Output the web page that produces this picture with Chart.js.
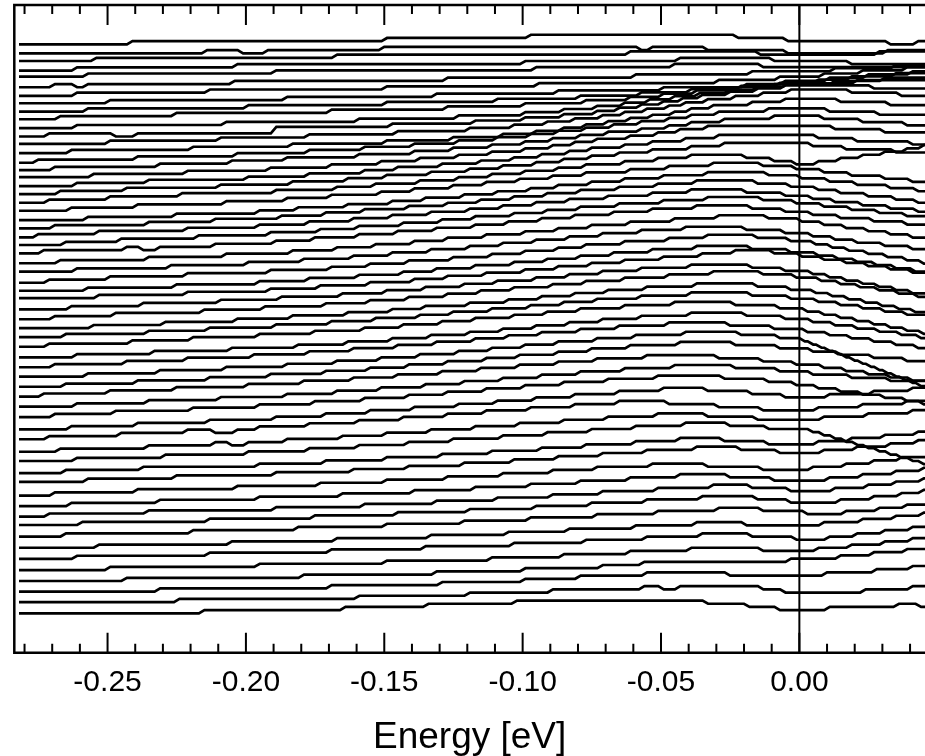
<!DOCTYPE html>
<html>
<head>
<meta charset="utf-8">
<script src="https://cdn.jsdelivr.net/npm/chart.js@4.4.0/dist/chart.umd.min.js"></script>
<style>
  html, body { margin: 0; padding: 0; background: #fff; overflow: hidden; }
  #wrap { width: 925px; height: 756px; }
</style>
</head>
<body>
<div id="wrap"><canvas id="edc" width="925" height="756"></canvas></div>
<script>
// energy window (eV)
const energyStart = -0.282;
const energyEnd = 0.046;
const axisMin = -0.2837;
const axisMax = 0.0454;
const fermiLevel = 0;
const intensityMax = 202.4;

const majorTicks = [-0.25, -0.20, -0.15, -0.10, -0.05, 0.00];
const tickMarks = [-0.28, -0.27, -0.26, -0.25, -0.24, -0.23, -0.22, -0.21, -0.20, -0.19, -0.18,
  -0.17, -0.16, -0.15, -0.14, -0.13, -0.12, -0.11, -0.10, -0.09, -0.08, -0.07, -0.06, -0.05,
  -0.04, -0.03, -0.02, -0.01, 0.00, 0.01, 0.02, 0.03, 0.04];

// stack offset of each EDC (counts), top curve first
const offsets = [190.1, 187.3, 184.9, 181.9, 180.0, 176.7, 174.0, 171.7, 169.1, 166.7,
  163.9, 161.3, 159.0, 156.1, 153.1, 150.8, 148.6, 145.8, 143.3, 140.6,
  138.1, 135.2, 132.6, 129.8, 127.4, 124.8, 121.7, 119.1, 115.6, 113.1,
  110.8, 107.3, 104.2, 101.4, 98.6, 95.6, 92.3, 89.2, 86.3, 83.1,
  80.0, 76.9, 73.6, 69.8, 66.7, 62.8, 59.9, 56.1, 53.4, 49.1,
  45.8, 42.5, 39.9, 36.3, 32.8, 29.3, 25.8, 22.4, 19.1, 15.8, 12.3];

// intensity steps per EDC: energy (meV), new level (counts above offset)
const steps = [
  [-242,1, -150,2, -98,3, -23,2, -5,1, 32,0, 42,1],
  [-215,1, -202,0, -193,1, -151,2, -58,1, -54,2, -34,1, -5,0, 31,1],
  [-255,1, -168,2, -62,3, -15,2, 28,3],
  [-262,1, -204,2, -100,3, -44,4, -10,3, 18,2],
  [-258,1, -190,2, -96,3, -46,4, -14,3],
  [-270,1, -262,0, -258,1, -205,2, -128,3, -60,4, -18,5, 12,6, 34,7],
  [-262,1, -214,2, -150,3, -95,4, -30,5, -8,6, 8,7, 22,8, 38,9],
  [-250,1, -186,2, -132,3, -88,4, -50,5, -20,6, -6,7, 10,8, 24,9, 40,10],
  [-258,1, -200,2, -150,3, -110,4, -80,5, -58,6, -40,7, -22,8, -8,9, 6,10, 18,11, 34,12],
  [-268,1, -226,2, -170,3, -128,4, -100,5, -78,6, -62,7, -50,8, -38,9, -24,10, -10,11, 12,12, 30,13],
  [-262,1, -208,2, -160,3, -124,4, -100,5, -86,6, -74,7, -64,8, -55,9, -46,10, -37,11, -26,12, -16,13, -5,14, 20,15],
  [-272,1, -248,0, -240,1, -190,3, -148,4, -118,5, -100,6, -86,7, -74,8, -66,9, -58,10, -50,11, -43,12, -36,13, -26,14, -16,15, -6,16, 26,15],
  [-250,1, -210,2, -178,3, -146,4, -120,5, -104,6, -92,7, -82,8, -72,9, -64,10, -56,11, -48,12, -42,13, -34,14, -24,15, -14,16, -4,17, 18,16, 36,15],
  [-264,1, -220,2, -184,3, -150,4, -126,5, -108,6, -96,7, -86,8, -78,9, -70,10, -62,11, -54,12, -46,13, -40,14, -32,15, -18,16, -6,17, 14,16, 32,15],
  [-276,1, -240,2, -204,3, -178,4, -158,5, -140,6, -124,7, -110,8, -98,9, -88,10, -78,11, -68,12, -58,13, -48,14, -40,15, -30,16, -12,17, 10,16, 28,15],
  [-270,1, -232,2, -206,3, -186,4, -160,5, -140,6, -126,7, -112,8, -100,9, -90,10, -80,11, -70,12, -58,13, -48,14, -40,15, -28,16, -10,17, 8,16, 22,15, 38,14],
  [-256,1, -222,2, -192,3, -170,4, -152,5, -138,6, -124,7, -112,8, -100,9, -90,10, -82,11, -74,12, -62,13, -52,14, -44,15, -34,16, 12,15, 30,14],
  [-262,1, -236,2, -200,3, -178,4, -158,5, -146,6, -130,7, -116,8, -104,9, -94,10, -84,11, -76,12, -64,13, -54,14, -42,15, -30,16, 6,15, 20,14, 40,13],
  [-268,1, -244,2, -210,3, -184,4, -164,5, -150,6, -134,7, -120,8, -108,9, -96,10, -86,11, -76,12, -66,13, -54,14, -40,15, -28,16, 4,15, 16,14, 34,13],
  [-272,1, -250,2, -224,3, -190,4, -168,5, -154,6, -138,7, -124,8, -112,9, -100,10, -88,11, -78,12, -64,13, -52,14, -40,15, -20,14, -10,13, -2,12, 6,13, 14,14, 22,15, 30,16, 38,17, 44,18],
  [-264,1, -240,2, -208,3, -186,4, -170,5, -152,6, -140,7, -126,8, -114,9, -102,10, -90,11, -78,12, -62,13, -48,14, -32,15, -14,14, -2,13, 8,12, 18,11, 30,10, 40,9],
  [-258,1, -226,2, -196,3, -182,4, -164,5, -148,6, -136,7, -122,8, -110,9, -98,10, -88,11, -76,12, -64,13, -50,14, -34,15, -12,14, 0,13, 10,12, 20,11, 32,10, 42,9],
  [-270,1, -236,2, -212,3, -188,4, -172,5, -158,6, -142,7, -128,8, -116,9, -104,10, -92,11, -80,12, -66,13, -52,14, -38,15, -16,14, -4,13, 6,12, 14,11, 24,10, 34,9, 42,8],
  [-276,1, -254,2, -222,3, -196,4, -178,5, -162,6, -148,7, -134,8, -120,9, -108,10, -96,11, -84,12, -70,13, -54,14, -40,15, -20,14, -6,13, 4,12, 12,11, 22,10, 32,9, 42,8],
  [-266,1, -246,2, -218,3, -192,4, -174,5, -160,6, -144,7, -130,8, -118,9, -104,10, -92,11, -80,12, -66,13, -50,14, -34,15, -14,14, -2,13, 8,12, 18,11, 28,10, 38,9],
  [-274,1, -244,2, -238,1, -232,2, -212,3, -190,4, -176,5, -160,6, -146,7, -132,8, -118,9, -106,10, -94,11, -82,12, -68,13, -54,14, -38,15, -18,14, -6,13, 4,12, 14,11, 26,10, 38,9],
  [-268,1, -236,2, -208,3, -184,4, -168,5, -154,6, -140,7, -128,8, -114,9, -100,10, -88,11, -76,12, -62,13, -46,14, -30,15, -12,14, 0,13, 8,12, 16,11, 24,10, 32,9, 40,8],
  [-262,1, -228,2, -200,3, -180,4, -162,5, -148,6, -134,7, -120,8, -108,9, -96,10, -84,11, -72,12, -58,13, -42,14, -20,13, -6,12, 4,11, 12,10, 20,9, 30,8, 40,7],
  [-272,1, -250,2, -222,3, -192,4, -170,5, -156,6, -142,7, -126,8, -112,9, -100,10, -88,11, -78,12, -64,13, -48,14, -34,15, -16,14, -4,13, 5,12, 11,11, 17,10, 24,9, 31,8, 38,7, 44,6],
  [-258,1, -226,2, -196,3, -178,4, -160,5, -144,6, -132,7, -118,8, -104,9, -92,10, -80,11, -68,12, -54,13, -38,14, -18,13, -4,12, 6,11, 13,10, 20,9, 27,8, 34,7, 41,6],
  [-254,1, -222,2, -192,3, -174,4, -156,5, -140,6, -128,7, -114,8, -100,9, -88,10, -76,11, -64,12, -50,13, -36,14, -24,15, -10,14, 0,13, 8,12, 16,11, 24,10, 32,9, 40,8],
  [-264,1, -238,2, -210,3, -188,4, -166,5, -150,6, -136,7, -122,8, -110,9, -96,10, -84,11, -72,12, -58,13, -40,14, -18,13, -6,12, 4,11, 10,10, 16,9, 22,8, 28,7, 34,6, 40,5],
  [-270,1, -248,2, -216,3, -194,4, -172,5, -156,6, -142,7, -128,8, -116,9, -104,10, -90,11, -78,12, -64,13, -48,14, -32,15, -14,14, -2,13, 7,12, 14,11, 21,10, 28,9, 35,8, 42,7],
  [-256,1, -230,2, -204,3, -184,4, -164,5, -148,6, -136,7, -120,8, -106,9, -94,10, -82,11, -70,12, -56,13, -38,14, -16,13, -4,12, 5,11, 11,10, 17,9, 23,8, 29,7, 35,6, 41,5],
  [-266,1, -236,2, -214,3, -190,4, -170,5, -154,6, -138,7, -126,8, -112,9, -98,10, -86,11, -74,12, -58,13, -40,14, -18,13, -4,12, 6,11, 14,10, 22,9, 30,8, 38,7],
  [-272,1, -242,2, -220,3, -196,4, -176,5, -158,6, -144,7, -130,8, -118,9, -104,10, -92,11, -80,12, -64,13, -46,14, -24,13, -8,12, 2,11, 8,10, 14,9, 20,8, 26,7, 32,6, 38,5, 44,4],
  [-262,1, -234,2, -206,3, -182,4, -164,5, -148,6, -134,7, -120,8, -108,9, -96,10, -84,11, -72,12, -58,13, -40,14, -20,13, -6,12, 4,11, 12,10, 20,9, 28,8, 36,7, 43,6],
  [-270,1, -244,2, -222,3, -198,4, -178,5, -162,6, -146,7, -132,8, -118,9, -106,10, -94,11, -80,12, -66,13, -48,14, -26,13, -10,12, 2,11, 10,10, 18,9, 26,8, 34,7, 42,6],
  [-258,1, -232,2, -208,3, -186,4, -168,5, -152,6, -138,7, -124,8, -112,9, -100,10, -88,11, -74,12, -60,13, -42,14, -22,13, -8,12, 1,11, 4,10, 7,9, 10,8, 13,7, 16,6, 19,5, 22,4, 25,3, 28,2, 31,1, 34,0, 37,-1, 40,-2, 43,-3],
  [-266,1, -240,2, -214,3, -192,4, -172,5, -156,6, -142,7, -128,8, -114,9, -102,10, -88,11, -76,12, -62,13, -44,14, -24,13, -8,12, 4,11, 14,10, 26,9, 38,8],
  [-274,1, -250,2, -226,3, -200,4, -180,5, -162,6, -146,7, -130,8, -116,9, -102,10, -88,11, -74,12, -56,13, -30,12, -14,11, -2,10, 8,9, 16,8, 24,7, 32,6, 40,5],
  [-262,1, -236,2, -210,3, -186,4, -168,5, -152,6, -136,7, -122,8, -108,9, -94,10, -80,11, -64,12, -46,13, -24,12, -8,11, 4,10, 18,9, 32,8],
  [-270,1, -248,2, -220,3, -196,4, -176,5, -158,6, -142,7, -128,8, -114,9, -100,10, -86,11, -70,12, -52,13, -28,12, -12,11, -2,10, 6,9, 14,8, 22,7, 30,6, 38,5, 44,4],
  [-264,1, -240,2, -214,3, -190,4, -172,5, -156,6, -140,7, -124,8, -110,9, -96,10, -82,11, -66,12, -50,13, -34,12, -18,11, -6,10, 10,11, 26,12, 40,13],
  [-272,1, -246,2, -222,3, -212,2, -204,3, -196,4, -178,5, -160,6, -144,7, -128,8, -114,9, -98,10, -82,11, -66,12, -48,11, -30,10, -14,9, 6,10, 22,11, 38,12],
  [-268,1, -236,2, -212,3, -206,2, -200,3, -186,4, -166,5, -150,6, -134,7, -118,8, -102,9, -86,10, -70,11, -52,12, -34,11, -16,10, 8,11, 24,12, 40,13],
  [-262,1, -230,2, -200,3, -178,4, -160,5, -142,6, -126,7, -108,8, -92,9, -76,10, -60,11, -42,12, -26,11, -12,10, 4,9, 8,8, 12,7, 16,6, 20,5, 24,4, 28,3, 32,2, 36,1, 40,0, 44,-1],
  [-266,1, -238,2, -196,3, -172,4, -150,5, -130,6, -112,7, -94,8, -78,9, -60,10, -44,11, -28,10, -12,9, 6,10, 18,11, 30,12, 42,13],
  [-258,1, -226,2, -190,3, -162,4, -142,5, -122,6, -104,7, -88,8, -72,9, -56,10, -38,11, -22,10, -8,9, 8,10, 20,11, 32,12, 42,13],
  [-270,1, -240,2, -204,3, -174,4, -150,5, -128,6, -108,7, -90,8, -74,9, -54,10, -34,9, -14,8, 4,9, 16,10, 26,11, 36,12],
  [-264,1, -232,2, -196,3, -166,4, -140,5, -118,6, -98,7, -80,8, -62,9, -44,10, -26,9, -10,8, 10,9, 22,10, 34,11, 44,12],
  [-272,1, -236,2, -190,3, -158,4, -132,5, -110,6, -90,7, -72,8, -52,9, -32,10, -18,9, -4,8, 12,9, 24,10, 34,11, 44,12],
  [-260,1, -214,2, -176,3, -146,4, -120,5, -96,6, -76,7, -56,8, -36,9, -16,8, -4,7, 14,8, 26,9, 36,10, 44,11],
  [-266,1, -220,2, -182,3, -150,4, -122,5, -98,6, -74,7, -52,8, -30,9, -14,8, 2,7, 16,8, 28,9, 38,10],
  [-254,1, -206,2, -168,3, -134,4, -106,5, -84,6, -60,7, -38,8, -20,7, 8,8, 22,9, 34,10, 44,11],
  [-262,1, -214,2, -170,3, -136,4, -104,5, -78,6, -56,7, -36,8, -18,7, -2,6, 10,7, 20,8, 30,9, 40,10],
  [-250,1, -196,2, -150,3, -112,4, -86,5, -62,6, -40,7, -14,6, 6,7, 18,8, 30,9, 40,10],
  [-244,1, -180,2, -132,3, -100,4, -72,5, -57,6, -4,7, 14,8, 26,9, 38,10],
  [-232,1, -170,2, -130,3, -100,4, -80,5, -56,6, -26,5, 9,6, 27,7, 40,8],
  [-225,1, -160,2, -120,3, -90,4, -57,5, -50,4, -44,5, -14,4, -6,3, 23,4, 40,5],
  [-216,1, -165,2, -135,3, -103,4, -34,3, -19,2, -8,1, 10,2, 35,3, 43,2]
];

const FONT = "'Liberation Sans', Helvetica, Arial, sans-serif";

// turn the step list of one EDC into line vertices
function buildTrace(off, knots) {
  const pts = [{ x: energyStart, y: off }];
  let level = 0;
  for (let k = 0; k < knots.length; k += 2) {
    const e = knots[k] / 1000;
    pts.push({ x: e - 0.001, y: off + level });
    level = knots[k + 1];
    pts.push({ x: e + 0.001, y: off + level });
  }
  pts.push({ x: energyEnd, y: off + level });
  return pts;
}

const datasets = offsets.map((off, i) => ({
  data: buildTrace(off, steps[i]),
  borderColor: '#000',
  borderWidth: 2.7,
  pointRadius: 0,
  tension: 0,
  fill: false
}));

// Fermi level marker
datasets.push({
  data: [{ x: fermiLevel, y: 0 }, { x: fermiLevel, y: intensityMax }],
  borderColor: '#000',
  borderWidth: 2,
  pointRadius: 0,
  fill: false
});

// frame + inward ticks on top and bottom
const framePlugin = {
  id: 'frame',
  afterDraw(chart) {
    const { ctx, chartArea: a } = chart;
    const xs = chart.scales.x;
    ctx.save();
    ctx.strokeStyle = '#000';
    ctx.lineWidth = 2.5;
    ctx.beginPath();
    ctx.moveTo(a.right + 2, a.top);
    ctx.lineTo(a.left, a.top);
    ctx.lineTo(a.left, a.bottom);
    ctx.lineTo(a.right + 2, a.bottom);
    ctx.stroke();
    ctx.lineWidth = 2;
    tickMarks.forEach(v => {
      const px = xs.getPixelForValue(v);
      const len = majorTicks.some(m => Math.abs(m - v) < 1e-9) ? 20 : 9;
      ctx.beginPath();
      ctx.moveTo(px, a.top);
      ctx.lineTo(px, a.top + len);
      ctx.moveTo(px, a.bottom);
      ctx.lineTo(px, a.bottom - len);
      ctx.stroke();
    });
    ctx.restore();
  }
};

new Chart(document.getElementById('edc'), {
  type: 'line',
  data: { datasets },
  plugins: [framePlugin],
  options: {
    responsive: false,
    animation: false,
    devicePixelRatio: 1,
    layout: { padding: { left: 14.3, top: 5, right: 0, bottom: 0 } },
    plugins: { legend: { display: false }, tooltip: { enabled: false } },
    scales: {
      x: {
        type: 'linear',
        min: axisMin,
        max: axisMax,
        afterBuildTicks: s => { s.ticks = majorTicks.map(v => ({ value: v })); },
        afterFit: s => { s.height = 103.3; },
        grid: { display: false, drawTicks: false },
        border: { display: false },
        ticks: {
          padding: 12,
          color: '#000',
          autoSkip: false,
          maxRotation: 0,
          font: { family: FONT, size: 30 },
          callback: v => (Math.abs(v) < 1e-9 ? '0.00' : v.toFixed(2))
        },
        title: {
          display: true,
          text: 'Energy [eV]',
          color: '#000',
          font: { family: FONT, size: 37, lineHeight: 1 },
          padding: { top: 0, bottom: 0 }
        }
      },
      y: { display: false, min: 0, max: intensityMax }
    }
  }
});
</script>
</body>
</html>
